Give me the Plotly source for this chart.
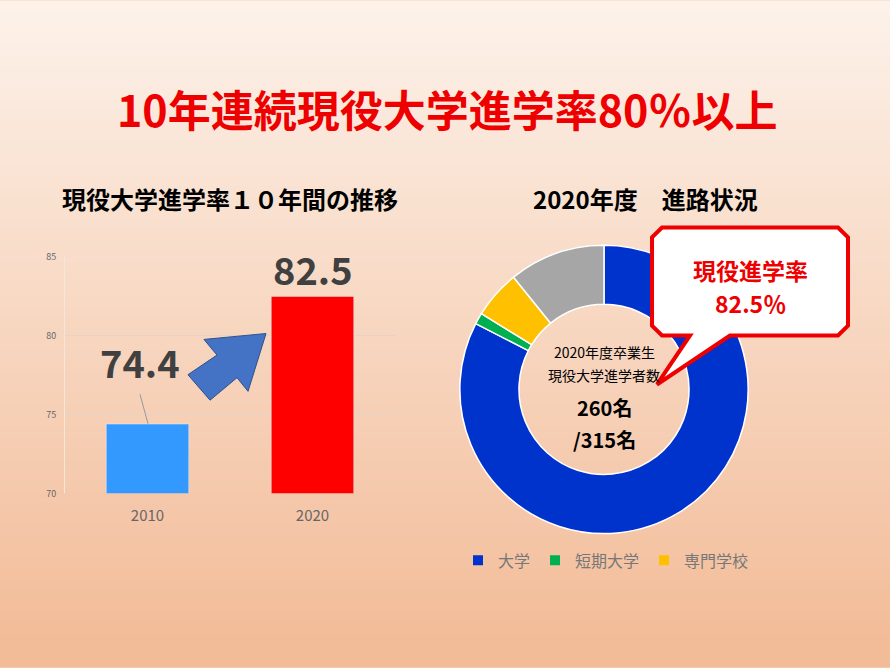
import plotly.graph_objects as go

years = ["2010", "2020"]
rates = [74.4, 82.5]
bar_colors = ["#3399ff", "#ff0000"]

course_labels = ["大学", "短期大学", "専門学校", "その他"]
course_counts = [260, 4, 17, 34]
course_colors = ["#0033cc", "#00b050", "#ffc000", "#a6a6a6"]

W, H = 890, 668
FONT = "Noto Sans CJK JP"


def px(x, y):
    return x / W, 1 - y / H


fig = go.Figure()

fig.add_trace(go.Bar(
    x=years, y=rates, marker_color=bar_colors, width=0.5,
    showlegend=False, hoverinfo="skip",
))

fig.add_trace(go.Pie(
    labels=course_labels, values=course_counts, hole=0.59, sort=False,
    direction="clockwise", rotation=0,
    marker=dict(colors=course_colors, line=dict(color="white", width=1.5)),
    textinfo="none", showlegend=False,
    domain=dict(x=[457 / W, 751 / W], y=[1 - 537 / H, 1 - 243 / H]),
))

# legend entries (the grey slice is not listed)
for name, col in zip(course_labels[:3], course_colors[:3]):
    fig.add_trace(go.Scatter(
        x=[None], y=[None], mode="markers", name=name,
        marker=dict(symbol="square", size=10, color=col),
    ))

shapes = []
# background gradient
top, bot = (253, 242, 234), (243, 188, 152)
n = 60
for i in range(n):
    t = i / (n - 1)
    c = tuple(int(top[k] + (bot[k] - top[k]) * t) for k in range(3))
    shapes.append(dict(type="rect", xref="paper", yref="paper",
                       x0=-0.01, x1=1.01, y0=1 - (i + 1.5) / n, y1=1 - i / n + 0.01,
                       fillcolor="rgb(%d,%d,%d)" % c, line_width=0, layer="below"))


def path(points):
    s = ""
    for i, (x, y) in enumerate(points):
        X, Y = px(x, y)
        s += ("M" if i == 0 else "L") + f"{X:.4f},{Y:.4f} "
    return s + "Z"


arrow = [(266, 333), (204, 339), (217, 355), (188, 375), (210, 401), (237, 378), (248, 392)]
shapes.append(dict(type="path", xref="paper", yref="paper", path=path(arrow),
                   fillcolor="#4472c4", line=dict(color="#2f528f", width=1)))

callout = [(662, 225), (838, 225), (848, 235), (848, 325), (838, 335), (730, 335),
           (657, 385), (690, 335), (662, 335), (652, 325), (652, 235)]
shapes.append(dict(type="path", xref="paper", yref="paper", path=path(callout),
                   fillcolor="white", line=dict(color="#ee0000", width=4)))

x0, y0 = px(140, 395)
x1, y1 = px(148, 425)
shapes.append(dict(type="line", xref="paper", yref="paper", x0=x0, y0=y0, x1=x1, y1=y1,
                   line=dict(color="#999999", width=1)))


def ann(text, x, y, size, color="black", bold=False):
    X, Y = px(x, y)
    return dict(text=f"<b>{text}</b>" if bold else text, x=X, y=Y, xref="paper", yref="paper",
                xanchor="center", yanchor="middle", showarrow=False,
                font=dict(size=size, color=color, family=FONT))


annotations = [
    ann("10年連続現役大学進学率80％以上", 447, 103, 43, "#ee0000", True),
    ann("現役大学進学率１０年間の推移", 230, 195, 24, "black", True),
    ann("2020年度　進路状況", 645, 195, 24, "black", True),
    ann("74.4", 140, 362, 38, "#404040", True),
    ann("82.5", 313, 267, 38, "#404040", True),
    ann("現役進学率", 750, 268, 23, "#ee0000", True),
    ann("82.5％", 750, 302, 23, "#ee0000", True),
    ann("2020年度卒業生", 604, 352, 14),
    ann("現役大学進学者数", 604, 375, 14),
    ann("260名", 604, 408, 20, "black", True),
    ann("/315名", 604, 441, 20, "black", True),
]

fig.update_layout(
    width=W, height=H, margin=dict(l=0, r=0, t=0, b=0),
    paper_bgcolor="#f8d5bf", plot_bgcolor="rgba(0,0,0,0)",
    font=dict(family=FONT),
    shapes=shapes, annotations=annotations,
    xaxis=dict(domain=[65 / W, 395 / W], tickfont=dict(size=15, color="#666666"),
               showline=False, ticks="", ticklabelstandoff=12),
    yaxis=dict(domain=[1 - 496 / H, 1 - 255 / H], range=[70, 85], dtick=5,
               tickfont=dict(size=9, color="#666666"), gridcolor="#e8d2c4",
               zeroline=False, showline=True, linecolor="#f5e6dc", ticklabelstandoff=6),
    legend=dict(orientation="h", x=458 / W, y=1 - 547 / H, xanchor="left", yanchor="top",
                font=dict(size=16, color="#777777"), bgcolor="rgba(0,0,0,0)"),
)

fig.write_html("out.html", config={"displayModeBar": False},
               post_script="document.body.style.margin='0';")
